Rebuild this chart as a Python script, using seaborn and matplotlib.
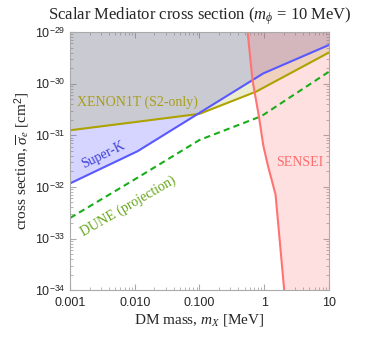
import numpy as np
import pandas as pd
import matplotlib
matplotlib.use("Agg")
import matplotlib.pyplot as plt
import seaborn as sns

# ---- data (mass in MeV, cross section in cm^2) ----
xenon_mass = [0.001, 0.01, 0.1, 0.75, 10]
xenon_sigma = [1.25e-31, 1.8e-31, 2.6e-31, 7.0e-31, 4.0e-30]

superk_mass = [0.001, 0.011, 0.97, 10]
superk_sigma = [1.17e-32, 4.9e-32, 1.58e-30, 5.6e-30]

dune_mass = [0.001, 0.01, 0.1, 0.91, 10]
dune_sigma = [2.5e-33, 1.4e-32, 8.1e-32, 2.35e-31, 1.7e-30]

sensei_mass = [0.5, 0.555, 0.66, 0.83, 0.97, 1.15, 1.5, 2.04, 2.1]
sensei_sigma = [1e-28, 1e-29, 1.17e-30, 2.3e-31, 6.3e-32, 2.5e-32, 7.1e-33, 1e-34, 1e-35]

x_ticks = [0.001, 0.01, 0.1, 1, 10]
x_ticklabels = ["0.001", "0.010", "0.100", "1", "10"]
y_ticks = [1e-34, 1e-33, 1e-32, 1e-31, 1e-30, 1e-29]
y_ticklabels = ["10$^{-34}$", "10$^{-33}$", "10$^{-32}$", "10$^{-31}$", "10$^{-30}$", "10$^{-29}$"]

sns.set_style("ticks")
plt.rcParams['font.family'] = ['Liberation Serif', 'DejaVu Serif']
plt.rcParams['mathtext.fontset'] = 'custom'
plt.rcParams['mathtext.rm'] = 'Liberation Sans'
plt.rcParams['mathtext.it'] = 'Liberation Serif:italic'

c_xenon = (0.68, 0.64, 0.0)
c_superk = (0.35, 0.35, 1.0)
c_dune = (0.1, 0.68, 0.1)
c_sensei = (1.0, 0.45, 0.45)

fig = plt.figure(figsize=(3.65, 3.37), dpi=100)
ax = fig.add_axes([0.192, 0.139, 0.709, 0.766])
ax.set_xscale("log")
ax.set_yscale("log")

top = 1e-27
# excluded regions (semi-transparent so overlaps mix)
ax.fill_between(superk_mass, superk_sigma, top, color=(0.3, 0.3, 1.0), alpha=0.23, lw=0)
ax.fill_between(xenon_mass, xenon_sigma, top, color=(0.62, 0.62, 0.1), alpha=0.19, lw=0)
ax.fill_betweenx(sensei_sigma, sensei_mass, 100, color=(1.0, 0.4, 0.4), alpha=0.2, lw=0)

df_x = pd.DataFrame({"m": xenon_mass, "s": xenon_sigma})
df_s = pd.DataFrame({"m": superk_mass, "s": superk_sigma})
df_d = pd.DataFrame({"m": dune_mass, "s": dune_sigma})
df_e = pd.DataFrame({"m": sensei_mass, "s": sensei_sigma})

sns.lineplot(data=df_x, x="m", y="s", ax=ax, color=c_xenon, lw=1.5, estimator=None, sort=False)
sns.lineplot(data=df_s, x="m", y="s", ax=ax, color=c_superk, lw=1.5, estimator=None, sort=False)
sns.lineplot(data=df_d, x="m", y="s", ax=ax, color=c_dune, lw=1.5, estimator=None, sort=False,
             linestyle=(0, (3, 2)))
sns.lineplot(data=df_e, x="m", y="s", ax=ax, color=c_sensei, lw=1.5, estimator=None, sort=False)

ax.set_xlim(0.001, 10)
ax.set_ylim(1e-34, 1e-29)

ax.set_xticks(x_ticks)
ax.set_xticklabels(x_ticklabels, family='Liberation Sans', fontsize=9)
ax.set_yticks(y_ticks)
ax.set_yticklabels(y_ticklabels, family='Liberation Sans', fontsize=9)
ax.tick_params(which='both', direction='in', top=True, right=True, color='#aaaaaa')
ax.tick_params(which='major', length=4, width=0.8)
ax.tick_params(axis='x', which='major', pad=5)
ax.tick_params(which='minor', length=2, width=0.6)
for sp in ax.spines.values():
    sp.set_color('#aaaaaa')
    sp.set_linewidth(0.8)

ax.set_xlabel("DM mass, $m_X$ [MeV]", fontsize=11, labelpad=2)
ax.set_ylabel(r"cross section, $\overline{\sigma}_e$ [cm$^2$]", fontsize=11, labelpad=2)
ax.set_title(r"Scalar Mediator cross section ($m_\phi$ = 10 MeV)", fontsize=12, pad=9)

ax.text(0.0108, 4.4e-31, "XENON1T (S2-only)", color=(0.66, 0.62, 0.1), fontsize=10,
        ha='center', va='center')
ax.text(0.0032, 4.2e-32, "Super-K", color=(0.25, 0.25, 0.85), fontsize=10,
        ha='center', va='center', rotation=26)
ax.text(0.0079, 4.3e-33, "DUNE (projection)", color=(0.4, 0.65, 0.1), fontsize=10,
        ha='center', va='center', rotation=30)
ax.text(3.5, 3.0e-32, "SENSEI", color=(1.0, 0.42, 0.42), fontsize=10,
        ha='center', va='center')

fig.savefig("out.png", dpi=100)
